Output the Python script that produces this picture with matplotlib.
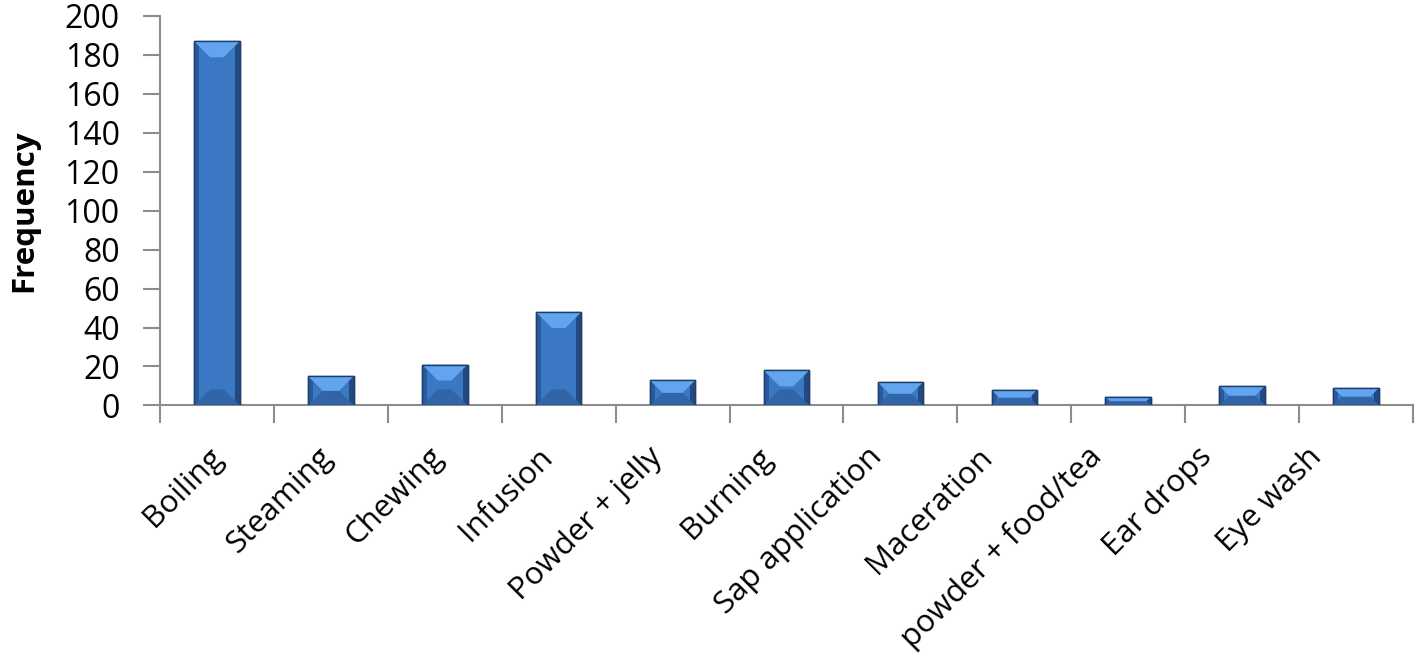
import numpy as np
import matplotlib
matplotlib.use('Agg')
from matplotlib import pyplot as plt
from matplotlib.patches import Polygon
from matplotlib.transforms import ScaledTranslation

categories = ['Boiling', 'Steaming', 'Chewing', 'Infusion', 'Powder + jelly',
              'Burning', 'Sap application', 'Maceration', 'powder + food/tea',
              'Ear drops', 'Eye wash']
frequency = [187, 15, 21, 48, 13, 18, 12, 8, 4.5, 10, 9]
yticks = [0, 20, 40, 60, 80, 100, 120, 140, 160, 180, 200]

plt.rcParams['font.family'] = ['Open Sans', 'DejaVu Sans']

fig = plt.figure(figsize=(14.18, 6.55), dpi=100)
ax = fig.add_axes([0.1128, 0.381, 0.8837, 0.5946])

x = np.arange(len(categories))
bars = ax.bar(x, frequency, width=0.4, color='#3b78c4', edgecolor='#1d3f6e',
              linewidth=1.0, zorder=3)

ax.set_xlim(-0.5, len(categories) - 0.5)
ax.set_ylim(0, 200)

# bevel look: light top, dark sides and bottom (sizes in pixels -> data)
bb = ax.get_window_extent(renderer=fig.canvas.get_renderer())
px_x = bb.width / len(categories)
px_y = bb.height / 200.0
for b in bars:
    x0, w, h = b.get_x(), b.get_width(), b.get_height()
    x1 = x0 + w
    d = min(16, h * px_y / 2.0)
    dx, dy = d / px_x, d / px_y
    side = 5 / px_x
    top = h
    polys = [
        ([(x0, 0), (x0 + side, 0), (x0 + side, top), (x0, top)], '#2a5a9a'),
        ([(x1 - side, 0), (x1, 0), (x1, top), (x1 - side, top)], '#23497f'),
        ([(x0, 0), (x1, 0), (x1 - dx, dy), (x0 + dx, dy)], '#3165a8'),
        ([(x0, top), (x1, top), (x1 - dx, top - dy), (x0 + dx, top - dy)], '#62a4ee'),
    ]
    for pts, c in polys:
        ax.add_patch(Polygon(pts, closed=True, facecolor=c, edgecolor='none',
                             zorder=4))
    ax.add_patch(Polygon([(x0, 0), (x1, 0), (x1, top), (x0, top)], closed=True,
                         fill=False, edgecolor='#1d3f6e', linewidth=1.0,
                         zorder=5))

ax.set_yticks(yticks)
ax.set_xticks(x)
ax.set_xticklabels(categories, rotation=45, ha='right', va='baseline',
                   rotation_mode='anchor', fontsize=22.5)
ax.set_xticks(np.arange(-0.5, len(categories) + 0.5, 1), minor=True)
ax.tick_params(axis='x', which='major', length=0, pad=38)
ax.tick_params(axis='x', which='minor', length=13, width=1.5, color='#8c8c8c',
               direction='out')
ax.tick_params(axis='y', length=12, width=1.5, color='#8c8c8c', labelsize=23,
               pad=17)

# the labels drift slightly left along the axis, as in the source
for i, lab in enumerate(ax.get_xticklabels()):
    off = (7 - 4.0 * i) / 100.0
    lab.set_transform(lab.get_transform() +
                      ScaledTranslation(off, 0, fig.dpi_scale_trans))

for s in ['top', 'right']:
    ax.spines[s].set_visible(False)
for s in ['left', 'bottom']:
    ax.spines[s].set_color('#8c8c8c')
    ax.spines[s].set_linewidth(1.5)

ax.set_ylabel('Frequency', fontsize=22.5, fontweight='bold', labelpad=18)

fig.savefig('out.png', dpi=100)
